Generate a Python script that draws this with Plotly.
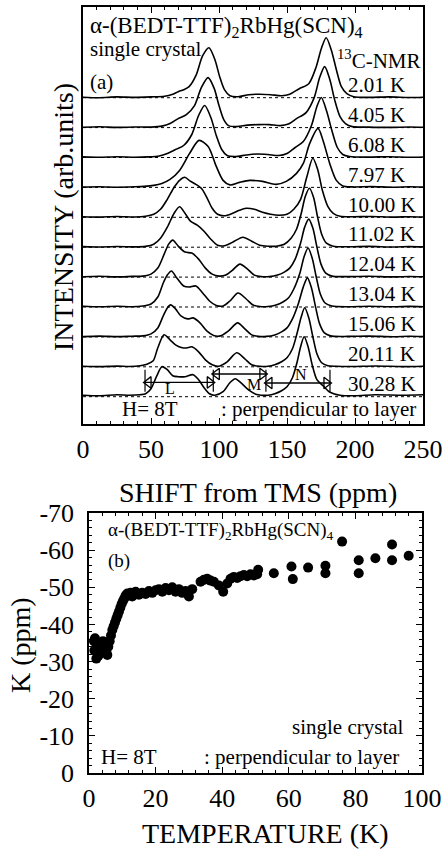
import plotly.graph_objects as go

W, H = 443, 850
FONT = "Liberation Serif"

# ---------------- panel (a): 13C-NMR spectra ----------------
LABELS_A = ["2.01 K", "4.05 K", "6.08 K", "7.97 K", "10.00 K", "11.02 K",
            "12.04 K", "13.04 K", "15.06 K", "20.11 K", "30.28 K"]

SHIFT_201 = [0, 12, 25, 38, 50, 60, 66, 70, 74, 78, 83, 88, 92.6, 97, 100.5, 104, 108, 114, 122, 130,
             138, 146, 152, 159, 166, 171.5, 175.2, 178.8, 182.5, 186.3, 190, 194, 199, 210, 225, 240, 250]
INT_201 = [0.5, 0, 0.8, 0.3, 0.8, 1.5, 3.5, 6, 8, 11, 22, 42, 50, 38, 21, 8, 2, 1, 3, 3.5,
           3, 2, 3.5, 9, 14, 31, 49, 60, 48, 28, 11, 4, 1, 0.3, 0.8, 0.2, 0.5]

SHIFT_405 = [0, 12, 25, 38, 50, 58, 64, 70, 76, 82, 87, 92, 96.5, 100, 103.5, 107, 113, 121, 129, 137,
             145, 151, 157, 164, 170, 174, 177.7, 181.5, 185, 189, 193, 198, 210, 225, 240, 250]
INT_405 = [0.3, 0.8, 0.2, 0.6, 0.5, 1.5, 4, 9, 13, 22, 40, 50, 39, 22, 8, 2, 1, 2.5, 3, 3,
           2, 3.5, 9, 15, 30, 50, 61, 48, 28, 11, 4, 1, 0.5, 0.2, 0.6, 0.3]

SHIFT_608 = [0, 12, 25, 38, 48, 56, 62, 68, 74, 80, 85, 89.5, 94, 98, 102, 106, 112, 120, 128, 136,
             144, 150, 156, 162, 168, 172, 175.2, 179, 183, 187, 191, 196, 210, 225, 240, 250]
INT_608 = [0.6, 0.2, 0.7, 0.3, 0.6, 1.5, 4, 8, 12, 23, 42, 52, 40, 22, 8, 2, 1, 2.5, 3.5, 3,
           2, 4, 10, 16, 32, 51, 60, 47, 27, 10, 3, 1, 0.4, 0.8, 0.2, 0.5]

SHIFT_797 = [0, 12, 25, 38, 45, 52, 58, 64, 71, 78.4, 85.3, 92, 98, 103, 108, 115, 122.5, 132, 142, 149.5,
             157, 162, 166.7, 172.8, 176.5, 181.4, 186.3, 191, 198, 212, 228, 240, 250]
INT_797 = [0.3, 0.7, 0.2, 0.6, 1, 2, 4, 8, 17, 34, 47, 41, 21, 7, 2.5, 5, 7, 6, 3, 6,
           14, 24, 44, 59, 47, 24, 7, 1.5, 0.5, 0.8, 0.2, 0.6, 0.3]

SHIFT_1000 = [0, 12, 25, 38, 46, 52, 57, 62, 67, 71, 74.8, 79, 83, 87, 91, 95, 99, 104, 110, 115,
              120, 126, 132, 138, 144, 150, 155, 160, 164.5, 169, 172.5, 176, 180, 184, 189, 198, 212, 228, 240, 250]
INT_1000 = [0.5, 0.2, 0.8, 0.3, 1, 3, 8, 18, 30, 37, 40, 36, 33, 29, 20, 9, 3, 1.5, 4, 7,
            9, 8, 5, 3, 2, 3, 8, 18, 40, 59, 48, 27, 11, 4, 1, 0.5, 0.8, 0.2, 0.6, 0.3]

SHIFT_1102 = [0, 12, 25, 38, 46, 52, 57, 62, 67, 71, 75, 79, 84, 89, 94, 99, 104, 110, 117.6, 124,
              130, 136, 142, 148, 153, 157, 160.5, 163.5, 166.5, 169.5, 172.5, 175.5, 179, 184, 195, 210, 228, 240, 250]
INT_1102 = [0.6, 0.2, 0.7, 0.3, 0.8, 3, 9, 20, 34, 40.5, 34, 26, 22, 16, 8, 2, 1.5, 5, 10, 6,
            2, 1, 1, 3, 9, 18, 34, 51, 59, 50, 30, 13, 4, 1, 0.4, 0.8, 0.2, 0.6, 0.3]

SHIFT_1204 = [0, 12, 25, 36, 44, 50, 55, 60, 63, 66, 70, 75, 80, 85, 90, 95, 100, 105, 110, 115.4,
              121, 126, 131, 137, 143, 148, 152, 156, 160, 163, 166, 169, 172, 175, 178.5, 183, 195, 210, 228, 240, 250]
INT_1204 = [0.3, 0.8, 0.2, 0.7, 1, 3, 9, 24, 33, 37, 31, 25, 24, 18, 9, 3, 1, 2, 7, 13,
            8, 2, 0.5, 0.5, 2, 5, 9, 18, 34, 50, 58, 49, 30, 13, 4, 1, 0.5, 0.8, 0.2, 0.6, 0.3]

SHIFT_1304 = [0, 12, 25, 36, 44, 50, 55, 59, 62, 65, 69, 74, 78, 83, 88, 93, 98, 103, 108, 114,
              120, 125, 130, 136, 142, 147, 151, 155, 159.5, 162.5, 165.5, 168.5, 171.5, 174.5, 178, 183, 195, 210, 228, 240, 250]
INT_1304 = [0.7, 0.2, 0.8, 0.3, 1, 3, 10, 24, 32, 36, 29, 21, 20, 21, 14, 6, 1.5, 1, 6, 14,
            8, 2, 0.5, 0.5, 2, 5, 9, 18, 34, 50, 59, 49, 30, 13, 4, 1, 0.3, 0.8, 0.2, 0.6, 0.3]

SHIFT_1506 = [0, 12, 25, 36, 44, 50, 55, 59, 62, 64.5, 68, 72, 77, 81, 86, 91, 96, 101, 107, 113.7,
              119, 124, 129, 135, 141, 146, 150, 154, 158.5, 162, 165, 168, 171, 174, 177.5, 182, 195, 210, 228, 240, 250]
INT_1506 = [0.3, 0.8, 0.3, 0.7, 1, 3, 9, 21, 29, 32, 28, 21, 18, 19, 14, 6, 1.5, 1, 6, 14,
            8, 2, 0.5, 0.5, 2, 5, 9, 18, 34, 50, 59, 49, 30, 13, 4, 1, 0.5, 0.8, 0.2, 0.6, 0.3]

SHIFT_2011 = [0, 12, 25, 34, 42, 47, 51.6, 55, 59.6, 64, 68, 73, 77, 80, 85, 90, 95, 99.5, 106, 113,
              119, 124, 130, 136, 141, 146, 150, 154, 157.5, 160.5, 163, 166, 169, 172, 175.5, 180, 186, 198, 215, 235, 250]
INT_2011 = [0.6, 0.2, 0.7, 0.3, 1, 2.5, 6, 19, 32, 27, 22, 19, 19, 20, 15, 7, 2, 0.5, 5, 14,
            8, 2, 0.5, 0.5, 2, 5, 9, 18, 34, 50, 59, 49, 30, 13, 4, 1, 0.5, 0.3, 0.8, 0.2, 0.5]

SHIFT_3028 = [0, 12, 25, 34, 42, 46, 50, 54, 58, 62, 66, 70, 75, 81, 85, 89, 93, 97, 103, 108,
              112, 116, 122.5, 127, 131, 136, 141, 146, 150, 154, 157.5, 160, 162.6, 165.5, 168.5, 172, 176.5, 181, 189, 200, 215, 235, 250]
INT_3028 = [1.5, 1, 2, 1.5, 2, 3, 8, 20, 30, 27, 21, 20, 20, 22, 17, 9, 3, 1.5, 5, 14,
            18, 14, 6, 2.5, 1.5, 1.5, 3, 6, 10, 19, 35, 50, 60, 50, 32, 17, 11, 5, 1.5, 1, 2, 1.5, 2]

SPECTRA = [(SHIFT_201, INT_201), (SHIFT_405, INT_405), (SHIFT_608, INT_608), (SHIFT_797, INT_797),
           (SHIFT_1000, INT_1000), (SHIFT_1102, INT_1102), (SHIFT_1204, INT_1204), (SHIFT_1304, INT_1304),
           (SHIFT_1506, INT_1506), (SHIFT_2011, INT_2011), (SHIFT_3028, INT_3028)]

# line-group ranges (ppm) drawn over the 30.28 K trace
RANGE_L = [45.6, 95.8]
RANGE_M = [95.8, 134.5]
RANGE_N = [134.5, 181.6]

# ---------------- panel (b): Knight shift vs temperature ----------------
TEMP_B = [1.5, 1.8, 2.0, 2.2, 2.5, 3.0, 3.5, 4.0, 4.5, 5.0, 5.5, 5.8, 6.2, 6.6, 7.0, 7.4, 7.8, 8.2, 8.6, 9.0,
          9.4, 9.8, 10.2, 10.6, 11.0, 11.5, 12.0, 12.5, 13.0, 13.5, 14.0, 15.0, 16.0, 17.0, 18.0, 19.0, 20.0,
          21.0, 22.0, 23.0, 24.0, 25.0, 26.0, 27.0, 28.0, 29.0, 30.0, 31.0, 33.5, 34.5, 35.5, 36.5, 37.5, 39.0,
          40.3, 41.5, 42.5, 43.5, 44.5, 45.5, 46.5, 47.5, 48.5, 49.5, 50.5, 50.8, 55.5, 60.8, 61.2, 65.8,
          71.0, 71.0, 76.0, 81.0, 81.0, 86.0, 91.0, 91.0, 96.0, 1.6, 2.8, 4.2]
K_B = [-35.5, -36.3, -33.5, -30.8, -32.5, -34.5, -33.0, -32.5, -34.0, -33.0, -31.8, -34.0, -35.5, -37.0,
       -38.5, -39.5, -40.5, -41.5, -42.5, -43.5, -44.5, -45.5, -46.3, -47.0, -47.8, -48.3, -47.8, -48.5,
       -47.5, -48.3, -48.8, -48.0, -48.5, -48.2, -49.0, -48.5, -49.2, -49.5, -48.8, -49.8, -49.2, -50.0,
       -48.8, -49.5, -48.5, -49.0, -47.5, -49.5, -51.5, -52.0, -52.3, -51.8, -51.5, -50.5, -48.8, -51.0,
       -52.3, -52.8, -52.5, -53.0, -53.3, -53.0, -53.5, -53.2, -53.5, -54.7, -53.8, -55.6, -52.2, -55.3,
       -55.8, -53.8, -62.3, -57.3, -53.8, -57.8, -61.5, -57.3, -58.5, -33.0, -31.5, -35.5]

K_TICKS = [0, -10, -20, -30, -40, -50, -60, -70]
K_TICKTEXT = ["0", "-10", "-20", "-30", "-40", "-50", "-60", "-70"]

# ---------------- geometry (pixels) ----------------
A_L, A_R, A_T, A_B = 83, 423, 7, 424
B_L, B_R, B_T, B_B = 89, 422, 513, 773
SPACING = 29.9                    # vertical offset between traces (px == data units)
BASE_TOP = A_B - 97.7             # baseline of first trace in data units


def pp(x, y):
    return x / W, 1 - y / H


fig = go.Figure()
shapes = []
annotations = []
bases = []
for i, (sx, iy) in enumerate(SPECTRA):
    base = BASE_TOP - i * SPACING
    bases.append(base)
    fig.add_trace(go.Scatter(x=sx, y=[v + base for v in iy], mode="lines",
                             line=dict(color="black", width=1.6, shape="spline", smoothing=0.8),
                             xaxis="x", yaxis="y", hoverinfo="skip"))
    shapes.append(dict(type="line", xref="x", yref="y", x0=0, x1=250, y0=base, y1=base,
                       line=dict(color="black", width=1, dash="dot"), layer="below"))
    annotations.append(dict(x=193.5, y=base + 12.7, xref="x", yref="y", text=LABELS_A[i],
                            xanchor="left", yanchor="middle", showarrow=False,
                            font=dict(size=21, family=FONT, color="black")))

# L / M / N range markers on the last trace
b = bases[-1]
for rng, dy in ((RANGE_L, 14.3), (RANGE_M, 22.7), (RANGE_N, 13.7)):
    fig.add_trace(go.Scatter(x=rng, y=[b + dy, b + dy], mode="lines", line=dict(color="black", width=1.3),
                             xaxis="x", yaxis="y", hoverinfo="skip"))
    fig.add_trace(go.Scatter(x=[rng[0] + 2.6], y=[b + dy], mode="markers",
                             marker=dict(symbol="triangle-left-open", size=10, color="black", line=dict(width=1.3)),
                             xaxis="x", yaxis="y", hoverinfo="skip"))
    fig.add_trace(go.Scatter(x=[rng[1] - 2.6], y=[b + dy], mode="markers",
                             marker=dict(symbol="triangle-right-open", size=10, color="black", line=dict(width=1.3)),
                             xaxis="x", yaxis="y", hoverinfo="skip"))
for xb in (RANGE_L[0], RANGE_L[1], RANGE_M[1], RANGE_N[1]):
    shapes.append(dict(type="line", xref="x", yref="y", x0=xb, x1=xb, y0=b + 5, y1=b + 27,
                       line=dict(color="black", width=1.2)))
for txt_, xx, dy in (("L", 64, 8.5), ("M", 125.5, 12), ("N", 160.5, 22)):
    annotations.append(dict(x=xx, y=b + dy, xref="x", yref="y", text=txt_, showarrow=False,
                            font=dict(size=16, family=FONT, color="black")))

# panel (b) scatter
fig.add_trace(go.Scatter(x=TEMP_B, y=K_B, mode="markers",
                         marker=dict(size=10, color="black"), xaxis="x2", yaxis="y2", hoverinfo="skip"))


def txt(text, x, y, size, xanchor="left", angle=0):
    px_, py_ = pp(x, y)
    annotations.append(dict(x=px_, y=py_, xref="paper", yref="paper", text=text, showarrow=False,
                            xanchor=xanchor, yanchor="middle", textangle=angle,
                            font=dict(size=size, family=FONT, color="black")))


# panel (a) texts
txt("α-(BEDT-TTF)<sub>2</sub>RbHg(SCN)<sub>4</sub>", 88, 27, 23)
txt("single crystal", 88, 49, 21)
txt("(a)", 88, 82, 21)
txt("<sup>13</sup>C-NMR", 423, 59, 21, xanchor="right")
txt("H= 8T", 120, 409, 21)
txt(": perpendicular to layer", 219, 409, 21)
# panel (b) texts
txt("α-(BEDT-TTF)<sub>2</sub>RbHg(SCN)<sub>4</sub>", 106, 531, 19)
txt("(b)", 106, 561, 19)
txt("single crystal", 406, 727, 21, xanchor="right")
txt("H= 8T", 99, 757, 21)
txt(": perpendicular to layer", 202, 757, 21)
# axis titles
txt("INTENSITY (arb.units)", 63, 217, 28, xanchor="center", angle=-90)
txt("SHIFT from TMS (ppm)", 258, 493, 28, xanchor="center")
txt("K (ppm)", 20, 645, 28, xanchor="center", angle=-90)
txt("TEMPERATURE (K)", 265, 833, 28, xanchor="center")

axis_common = dict(showline=True, linecolor="black", linewidth=1.5, mirror="ticks", ticks="inside",
                   tickcolor="black", tickwidth=1.2, showgrid=False, zeroline=False, automargin=False,
                   tickfont=dict(size=26, family=FONT, color="black"))

fig.update_layout(
    width=W, height=H, margin=dict(l=0, r=0, t=0, b=0, pad=0, autoexpand=False), autosize=False,
    paper_bgcolor="white", plot_bgcolor="white", showlegend=False,
    font=dict(family=FONT, color="black"),
    shapes=shapes, annotations=annotations,
    xaxis=dict(domain=[A_L / W, A_R / W], range=[0, 250], anchor="y", tickmode="linear", tick0=0, dtick=50,
               ticklen=6, ticklabelstandoff=1,
               minor=dict(ticks="inside", ticklen=3, dtick=10, tickcolor="black", tickwidth=1), **axis_common),
    yaxis=dict(domain=[1 - A_B / H, 1 - A_T / H], range=[0, A_B - A_T], anchor="x", automargin=False,
               showline=True, linecolor="black", linewidth=1.5, mirror=True, ticks="",
               showticklabels=False, showgrid=False, zeroline=False),
    xaxis2=dict(domain=[B_L / W, B_R / W], range=[0, 100], anchor="y2", tickmode="linear", tick0=0, dtick=20,
                ticklen=6, ticklabelstandoff=1,
                minor=dict(ticks="inside", ticklen=3, dtick=4, tickcolor="black", tickwidth=1), **axis_common),
    yaxis2=dict(domain=[1 - B_B / H, 1 - B_T / H], range=[0, -70], anchor="x2", tickmode="array",
                tickvals=K_TICKS, ticktext=K_TICKTEXT, ticklen=6, ticklabelstandoff=8,
                minor=dict(ticks="inside", ticklen=3, dtick=2, tickcolor="black", tickwidth=1), **axis_common),
)

fig.write_html("out.html", config={"responsive": False, "displayModeBar": False},
               post_script="document.body.style.margin='0px';"
                           "document.documentElement.style.overflow='hidden';")
